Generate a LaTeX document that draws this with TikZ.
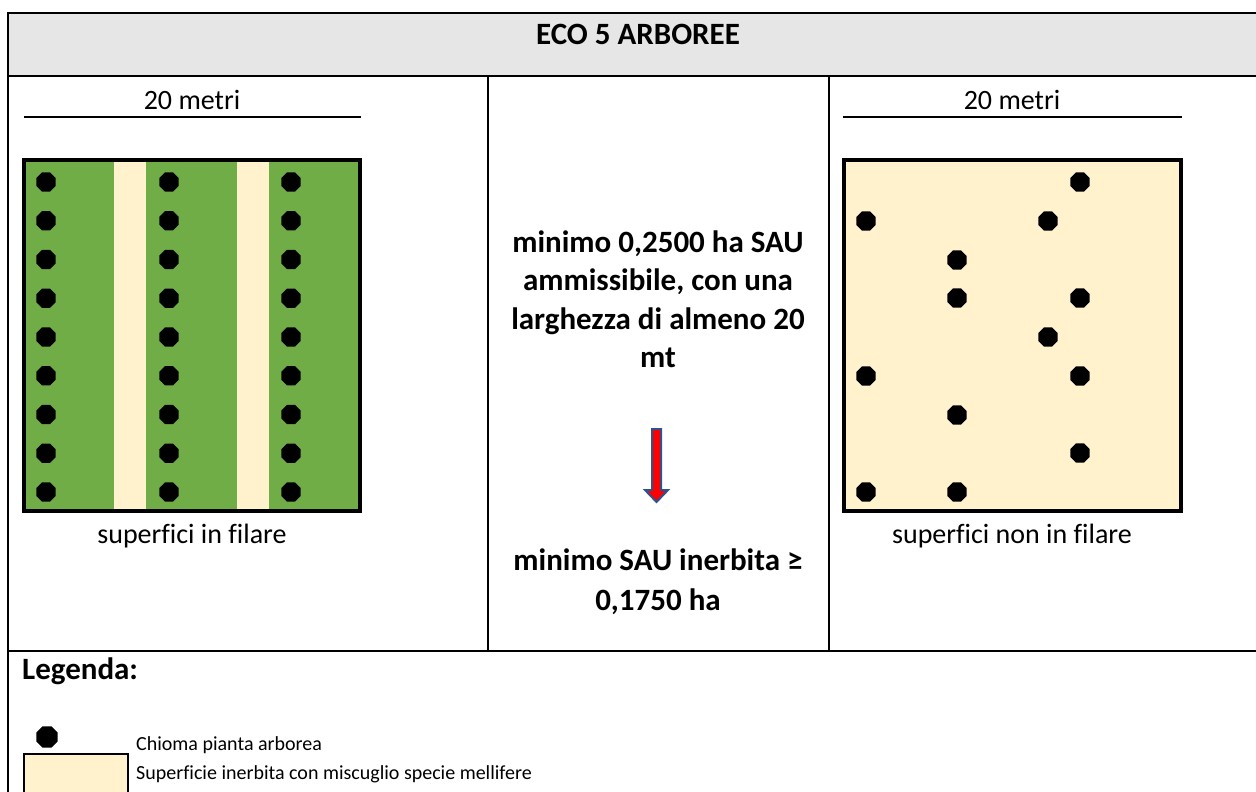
\documentclass[tikz,border=0pt]{standalone}
\usepackage{fontspec}
\setmainfont[Ligatures=CommonOff]{Carlito}
\usetikzlibrary{shapes.geometric}
\definecolor{grass}{RGB}{112,173,71}
\definecolor{honey}{RGB}{255,242,204}
\definecolor{headgray}{RGB}{231,230,230}
\definecolor{arrowblue}{RGB}{47,82,143}
\tikzset{
  tab/.style={line width=2pt},
  plot/.style={line width=3.5pt},
  scalebar/.style={line width=2.5pt},
  crown/.style={regular polygon,regular polygon sides=8,fill=black,inner sep=0pt,minimum size=21pt},
  lbl/.style={inner sep=0pt,font=\fontsize{28}{34}\selectfont},
  boldlbl/.style={inner sep=0pt,font=\fontsize{31}{39}\selectfont\bfseries},
  keylbl/.style={inner sep=0pt,anchor=base west,font=\fontsize{20}{24}\selectfont}
}
\begin{document}
\begin{tikzpicture}[x=1pt,y=-1pt]
  \useasboundingbox (0,0) rectangle (1256,792);
  % table edges
  \def\xL{8}\def\xM{488}\def\xN{829}\def\xR{1256}
  \def\yT{13}\def\yH{76}\def\yB{651}
  % header band and table rules
  \fill[headgray] (\xL,\yT) rectangle (\xR,\yH);
  \draw[tab] (\xR,\yT) -- (\xL,\yT) -- (\xL,792);
  \draw[tab] (\xL,\yH) -- (\xR,\yH) (\xL,\yB) -- (\xR,\yB);
  \draw[tab] (\xM,\yH) -- (\xM,\yB) (\xN,\yH) -- (\xN,\yB);
  \node[boldlbl,anchor=base] (title) at (638,45) {ECO 5 ARBOREE};
  % left panel: rows of trees
  \node[lbl,anchor=base] (lwidth) at (192,110) {20 metri};
  \draw[scalebar] (24,117) -- (361,117);
  \fill[grass] (24,160) rectangle (360,511);
  \fill[honey] (114,160) rectangle (146,511);
  \fill[honey] (237,160) rectangle (269,511);
  \draw[plot] (24,160) rectangle (360,511);
  \foreach \c/\x in {1/46,2/169,3/291}{%
    \foreach \r in {1,...,9}{%
      \node[crown] (l\c-\r) at (\x,{182+38.75*(\r-1)}) {};}}
  \node[lbl,anchor=base] (lcap) at (192,543) {superfici in filare};
  % middle column
  \foreach \t [count=\i] in {{minimo 0,2500 ha SAU},{ammissibile, con una},{larghezza di almeno 20},{mt}}{%
    \node[boldlbl,anchor=base] (req\i) at (658,{252+38.5*(\i-1)}) {\t};}
  \draw[arrowblue,line width=2pt,fill=red,line join=miter]
    (652,429) -- (661,429) -- (661,490) -- (668,490) -- (656.5,502) -- (645,490) -- (652,490) -- cycle;
  \node[boldlbl,anchor=base] (min1) at (658,570) {minimo SAU inerbita ≥};
  \node[boldlbl,anchor=base] (min2) at (658,610) {0,1750 ha};
  % right panel: scattered trees
  \node[lbl,anchor=base] (rwidth) at (1012,110) {20 metri};
  \draw[scalebar] (843,117) -- (1182,117);
  \draw[plot,fill=honey] (844,160) rectangle (1181,511);
  \foreach \x/\y [count=\i] in {1080/182,866/221,1048/221,957/260,957/298,1080/298,1048/337,
                               866/376,1080/376,957/415,1080/453,866/492,957/492}{%
    \node[crown] (r\i) at (\x,\y) {};}
  \node[lbl,anchor=base] (rcap) at (1012,543) {superfici non in filare};
  % legend
  \node[boldlbl,anchor=base west] (legend) at (22,679) {Legenda:};
  \node[crown,minimum size=23pt] (keycrown) at (47,737) {};
  \node[keylbl] (keycrowntxt) at (136,750) {Chioma pianta arborea};
  \fill[honey] (24,754) rectangle (128,792);
  \draw[line width=1.5pt] (24,792) -- (24,754) -- (128,754) -- (128,792);
  \node[keylbl] (keygrasstxt) at (136,779) {Superficie inerbita con miscuglio specie mellifere};
\end{tikzpicture}
\end{document}
